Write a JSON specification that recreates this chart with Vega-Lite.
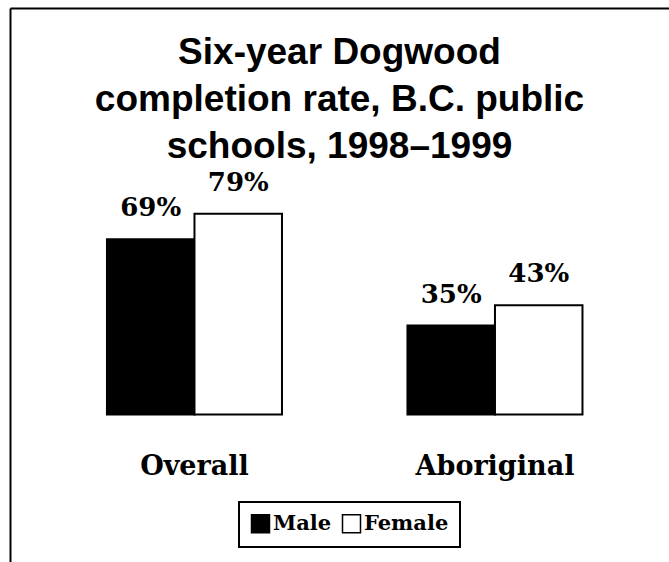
{
  "$schema": "https://vega.github.io/schema/vega-lite/v6.json",
  "autosize": {"type": "none"},
  "padding": {"left": 10, "top": 8, "right": 0, "bottom": 0},
  "width": 659,
  "height": 554,
  "background": "white",
  "config": {
    "view": {"stroke": null},
    "legend": {"strokeWidth": 2}
  },
  "title": {
    "text": ["Six-year Dogwood", "completion rate, B.C. public", "schools, 1998–1999"],
    "font": "Liberation Sans",
    "fontSize": 37,
    "fontWeight": "bold",
    "lineHeight": 47,
    "color": "black",
    "anchor": "middle",
    "baseline": "alphabetic",
    "offset": -187
  },
  "data": {
    "values": [
      {"group": "Overall", "sex": "Male", "rate": 69, "label": "69%"},
      {"group": "Overall", "sex": "Female", "rate": 79, "label": "79%"},
      {"group": "Aboriginal", "sex": "Male", "rate": 35, "label": "35%"},
      {"group": "Aboriginal", "sex": "Female", "rate": 43, "label": "43%"}
    ]
  },
  "encoding": {
    "x": {
      "field": "group",
      "type": "nominal",
      "sort": ["Overall", "Aboriginal"],
      "scale": {"paddingInner": 0, "paddingOuter": 0.0965, "align": 0.59},
      "axis": {"orient": "top", "title": null, "labels": false, "ticks": false, "grid": false, "domain": true, "domainColor": "black", "domainWidth": 2}
    }
  },
  "layer": [
    {
      "mark": {"type": "bar", "stroke": "black", "strokeWidth": 2},
      "encoding": {
        "xOffset": {"field": "sex", "sort": ["Male", "Female"], "scale": {"paddingInner": 0, "paddingOuter": 0.717}},
        "y": {
          "field": "rate",
          "type": "quantitative",
          "scale": {"domain": [-58.07, 160.04], "nice": false, "zero": false},
          "axis": {"title": null, "labels": false, "ticks": false, "grid": false, "domain": true, "domainColor": "black", "domainWidth": 2}
        },
        "y2": {"datum": 0},
        "fill": {
          "field": "sex",
          "type": "nominal",
          "scale": {"domain": ["Male", "Female"], "range": ["black", "white"]},
          "legend": {
            "title": null,
            "orient": "none",
            "legendX": 229,
            "legendY": 494,
            "direction": "horizontal",
            "symbolType": "square",
            "symbolSize": 324,
            "symbolStrokeColor": "black",
            "symbolStrokeWidth": 1.5,
            "symbolOpacity": 1,
            "labelFont": "DejaVu Serif",
            "labelFontSize": 21,
            "labelFontWeight": "bold",
            "labelColor": "black",
            "labelOffset": 2,
            "columnPadding": 7,
            "strokeColor": "black",
            "padding": 11
          }
        }
      }
    },
    {
      "mark": {"type": "text", "baseline": "alphabetic", "dy": -23, "font": "DejaVu Serif", "fontSize": 26, "fontWeight": "bold", "color": "black"},
      "encoding": {
        "xOffset": {"field": "sex", "sort": ["Male", "Female"], "scale": {"paddingInner": 0, "paddingOuter": 0.717}},
        "y": {"field": "rate", "type": "quantitative"},
        "text": {"field": "label"}
      }
    },
    {
      "transform": [{"filter": "datum.sex === 'Male'"}],
      "mark": {"type": "text", "baseline": "alphabetic", "font": "DejaVu Serif", "fontSize": 27, "fontWeight": "bold", "color": "black"},
      "encoding": {
        "y": {"datum": -23.8},
        "text": {"field": "group"}
      }
    }
  ]
}
